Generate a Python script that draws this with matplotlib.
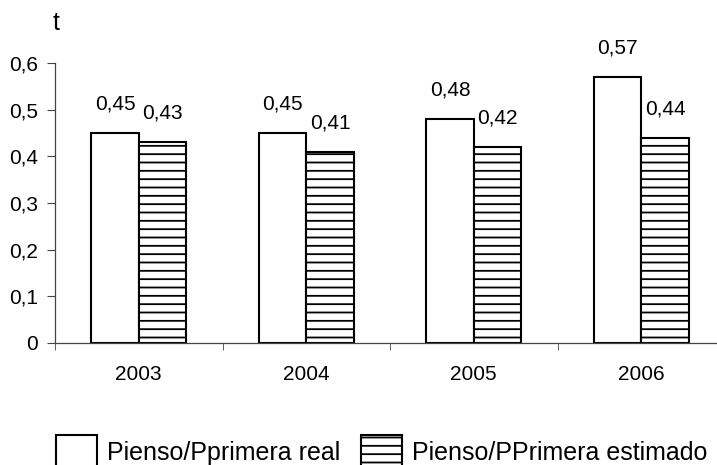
import matplotlib
matplotlib.use("Agg")
import matplotlib.pyplot as plt
import numpy as np
from matplotlib.patches import Patch

# Feed conversion per year: real vs estimated
years = ["2003", "2004", "2005", "2006"]
real = [0.45, 0.45, 0.48, 0.57]
estimado = [0.43, 0.41, 0.42, 0.44]
yticks = [0, 0.1, 0.2, 0.3, 0.4, 0.5, 0.6]
ytick_labels = ["0", "0,1", "0,2", "0,3", "0,4", "0,5", "0,6"]

plt.rcParams["font.family"] = ["Liberation Sans", "DejaVu Sans"]
plt.rcParams["font.size"] = 15
plt.rcParams["hatch.linewidth"] = 1.3
plt.rcParams["hatch.color"] = "black"

fig = plt.figure(figsize=(7.17, 4.65), dpi=100)
ax = fig.add_axes([0.0767, 0.2624, 0.9345, 0.602])

x = np.arange(len(years))
w = 0.283
b1 = ax.bar(x - w / 2, real, w, color="white", edgecolor="black", linewidth=1.5)
b2 = ax.bar(x + w / 2, estimado, w, color="white", edgecolor="black",
            linewidth=1.5, hatch="--")

def fmt(v):
    return f"{v:.2f}".replace(".", ",")

for bars, vals in ((b1, real), (b2, estimado)):
    for rect, v in zip(bars, vals):
        ax.annotate(fmt(v), (rect.get_x() + rect.get_width() / 2, v),
                    xytext=(0, 14), textcoords="offset points",
                    ha="center", va="bottom", clip_on=False)

ax.set_xlim(-0.5, len(years) - 0.5)
ax.set_ylim(0, 0.6)
ax.set_yticks(yticks)
ax.set_yticklabels(ytick_labels)
ax.set_xticks(x)
ax.set_xticklabels(years)
ax.tick_params(axis="x", which="major", length=0, pad=16)
ax.set_xticks(np.arange(-0.5, len(years), 1), minor=True)
ax.tick_params(axis="x", which="minor", length=5, direction="out", color="#444")
ax.tick_params(axis="y", length=5.5, direction="out", color="#444", pad=7)

for s in ("top", "right"):
    ax.spines[s].set_visible(False)
for s in ("left", "bottom"):
    ax.spines[s].set_color("#444")
    ax.spines[s].set_linewidth(0.9)

ax.text(-0.003, 1.118, "t", transform=ax.transAxes, ha="left", va="baseline",
        fontsize=18)

handles = [
    Patch(facecolor="white", edgecolor="black", linewidth=1.5),
    Patch(facecolor="white", edgecolor="black", linewidth=1.5, hatch="--"),
]
fig.legend(handles, ["Pienso/Pprimera real", "Pienso/PPrimera estimado"],
           loc="upper left", bbox_to_anchor=(0.078, 0.0645), ncol=2,
           frameon=False, borderpad=0, borderaxespad=0,
           handlelength=1.64, handleheight=1.7, handletextpad=0.4,
           columnspacing=0.84, fontsize=18)

fig.savefig("out.png", dpi=100)
